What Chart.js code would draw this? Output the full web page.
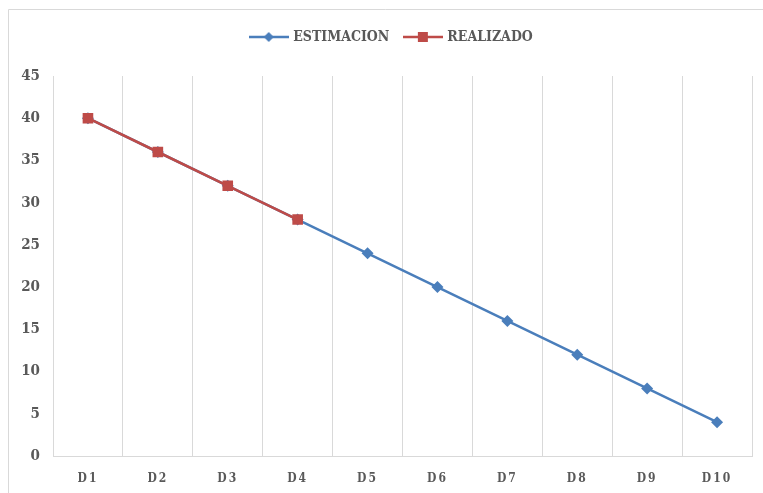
<!DOCTYPE html>
<html>
<head>
<meta charset="utf-8">
<script src="https://cdn.jsdelivr.net/npm/chart.js@4"></script>
<style>
  html, body { margin: 0; padding: 0; background: #fff; }
  #wrap { width: 763px; height: 493px; }
</style>
</head>
<body>
<div id="wrap"><canvas id="lineChart" width="763" height="493"></canvas></div>
<script>
const dias = ["D1", "D2", "D3", "D4", "D5", "D6", "D7", "D8", "D9", "D10"];
const estimacion = [40, 36, 32, 28, 24, 20, 16, 12, 8, 4];
const realizado = [40, 36, 32, 28, null, null, null, null, null, null];
const yTicks = [0, 5, 10, 15, 20, 25, 30, 35, 40, 45];

const azul = "#4A7EBB";
const rojo = "#BE4B48";
const gris = "#595959";
const rejilla = "#D9D9D9";
const fuente = "'DejaVu Serif Condensed', 'DejaVu Serif', serif";

// small legend pictures: line with marker in the middle
function iconoLeyenda(color, forma) {
    const c = document.createElement("canvas");
    c.width = 40;
    c.height = 14;
    const ctx = c.getContext("2d");
    ctx.strokeStyle = color;
    ctx.lineWidth = 2.5;
    ctx.beginPath();
    ctx.moveTo(0, 7);
    ctx.lineTo(40, 7);
    ctx.stroke();
    ctx.fillStyle = color;
    ctx.beginPath();
    if (forma === "rombo") {
        ctx.moveTo(20, 2);
        ctx.lineTo(25, 7);
        ctx.lineTo(20, 12);
        ctx.lineTo(15, 7);
    } else {
        ctx.rect(15, 2, 10, 10);
    }
    ctx.fill();
    return c;
}

const marco = {
    id: "marco",
    beforeDraw(chart) {
        const ctx = chart.ctx;
        ctx.save();
        ctx.strokeStyle = rejilla;
        ctx.lineWidth = 1;
        ctx.beginPath();
        ctx.moveTo(8.5, chart.height);
        ctx.lineTo(8.5, 9.5);
        ctx.lineTo(chart.width, 9.5);
        ctx.stroke();
        ctx.restore();
    },
    beforeLayout(chart) {
        const legend = chart.legend;
        if (legend && !legend._fijado) {
            const fit = legend.fit;
            legend.fit = function () {
                fit.call(this);
                this.height = 62;
            };
            legend._fijado = true;
        }
    },
    afterLayout(chart) {
        // legend sits a bit right of centre in the original
        chart.legend.left += 16;
        chart.legend.right += 16;
        // spaced-out day labels, like the original
        const x = chart.scales.x;
        if (!x._espaciado) {
            const draw = x.drawLabels;
            x.drawLabels = function (area) {
                const ctx = this.ctx;
                ctx.save();
                ctx.letterSpacing = "2px";
                draw.call(this, area);
                ctx.restore();
            };
            x._espaciado = true;
        }
    },
};

const lineChart = document.querySelector("#lineChart").getContext("2d");

const objLineChart = new Chart(lineChart, {
    type: "line",
    data: {
        labels: dias,
        datasets: [
            {
                label: "ESTIMACION",
                data: estimacion,
                borderColor: azul,
                backgroundColor: azul,
                borderWidth: 2.5,
                pointStyle: "rectRot",
                pointRadius: 6,
                pointBorderWidth: 0,
                order: 1,
            },
            {
                label: "REALIZADO",
                data: realizado,
                borderColor: rojo,
                backgroundColor: rojo,
                borderWidth: 2.5,
                pointStyle: "rect",
                pointRadius: 7.5,
                pointBorderWidth: 0,
                order: 0,
            },
        ],
    },
    options: {
        responsive: false,
        animation: false,
        layout: { padding: { top: 14, right: 11, left: 0, bottom: 0 } },
        plugins: {
            tooltip: { enabled: false },
            legend: {
                position: "top",
                labels: {
                    usePointStyle: true,
                    pointStyleWidth: 35,
                    padding: 16,
                    color: gris,
                    font: { family: fuente, size: 14, weight: "bold" },
                    generateLabels(chart) {
                        return chart.data.datasets.map((ds, i) => ({
                            text: ds.label,
                            fillStyle: ds.borderColor,
                            strokeStyle: ds.borderColor,
                            fontColor: gris,
                            lineWidth: 0,
                            pointStyle: iconoLeyenda(ds.borderColor, i === 0 ? "rombo" : "cuadro"),
                            datasetIndex: i,
                            hidden: false,
                        }));
                    },
                },
            },
        },
        scales: {
            x: {
                offset: true,
                grid: { display: true, offset: true, color: rejilla, drawTicks: false },
                border: { display: true, color: rejilla },
                ticks: { color: gris, padding: 16, font: { family: fuente, size: 12, weight: "bold" } },
                afterFit(scale) { scale.height = 37; },
            },
            y: {
                min: 0,
                max: 45,
                afterBuildTicks(scale) { scale.ticks = yTicks.map(v => ({ value: v })); },
                grid: { display: false, drawTicks: false },
                border: { display: false },
                ticks: { color: gris, padding: 13, font: { family: fuente, size: 15, weight: "bold" } },
                afterFit(scale) { scale.width = 53; },
            },
        },
    },
    plugins: [marco],
});
</script>
</body>
</html>
